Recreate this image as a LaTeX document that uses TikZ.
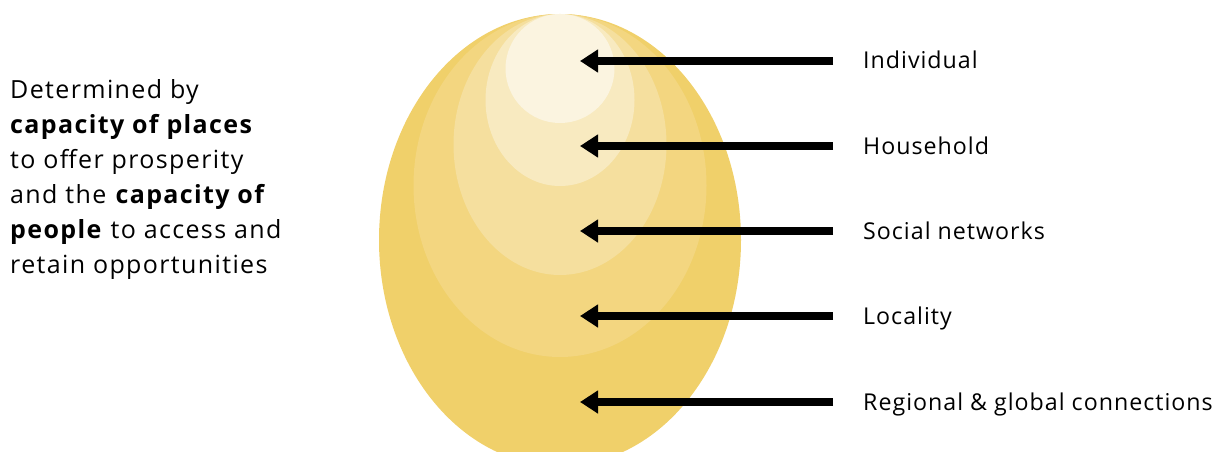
\documentclass[tikz,border=0pt]{standalone}
\usepackage{fontspec}
\setmainfont{Open Sans}
\newfontfamily\levelfont[LetterSpace=4.3]{Open Sans}
\newfontfamily\introfont[LetterSpace=5.5]{Open Sans}
\usetikzlibrary{arrows.meta,positioning}
\definecolor{eggGold}{RGB}{240,208,106}
\definecolor{eggAmber}{RGB}{243,214,128}
\definecolor{eggSand}{RGB}{245,223,158}
\definecolor{eggCream}{RGB}{248,234,192}
\definecolor{eggIvory}{RGB}{251,244,224}

\begin{document}
\begin{tikzpicture}[x=1pt, y=-1pt,
    levelname/.style={anchor=west, inner sep=0pt, text height=16pt, text depth=0pt,
      font=\levelfont\fontsize{23.2}{26}\selectfont},
    pointer/.style={line width=8pt, -{Triangle[length=18pt,width=22pt]}}
  ]
  \useasboundingbox (0,0) rectangle (1228,452);
  \clip (0,0) rectangle (1228,452);

  % nested layers, all touching at the top
  \fill[eggGold]  (560,240)   ellipse [x radius=181,   y radius=226];
  \fill[eggAmber] (560,185.5) ellipse [x radius=146.5, y radius=171.5];
  \fill[eggSand]  (560,144.5) ellipse [x radius=106.5, y radius=130.5];
  \fill[eggCream] (560,100)   ellipse [x radius=74.5,  y radius=86];
  \fill[eggIvory] (560,68.5)  ellipse [x radius=54.5,  y radius=54.5];

  % left description
  \node[anchor=north west, align=left, inner sep=0pt,
    font=\introfont\fontsize{25}{35}\selectfont] (intro) at (10,79)
    {Determined by\\
     \textbf{capacity of places}\\
     to offer prosperity\\
     and the \textbf{capacity of}\\
     \textbf{people} to access and\\
     retain opportunities};

  % level names
  \node[levelname] (indiv)  at (863,61)  {Individual};
  \node[levelname] (house)  at (863,146) {Household};
  \node[levelname] (social) at (863,231) {Social networks};
  \node[levelname] (local)  at (863,316) {Locality};
  \node[levelname] (region) at (863,402) {Regional \& global connections};

  \coordinate (indivTip)  at (580,61);
  \coordinate (houseTip)  at (580,146);
  \coordinate (socialTip) at (580,231);
  \coordinate (localTip)  at (580,316);
  \coordinate (regionTip) at (580,402);

  % pointers into the egg
  \draw[pointer] ([xshift=-30pt]indiv.west)  -- (indivTip);
  \draw[pointer] ([xshift=-30pt]house.west)  -- (houseTip);
  \draw[pointer] ([xshift=-30pt]social.west) -- (socialTip);
  \draw[pointer] ([xshift=-30pt]local.west)  -- (localTip);
  \draw[pointer] ([xshift=-30pt]region.west) -- (regionTip);
\end{tikzpicture}
\end{document}
